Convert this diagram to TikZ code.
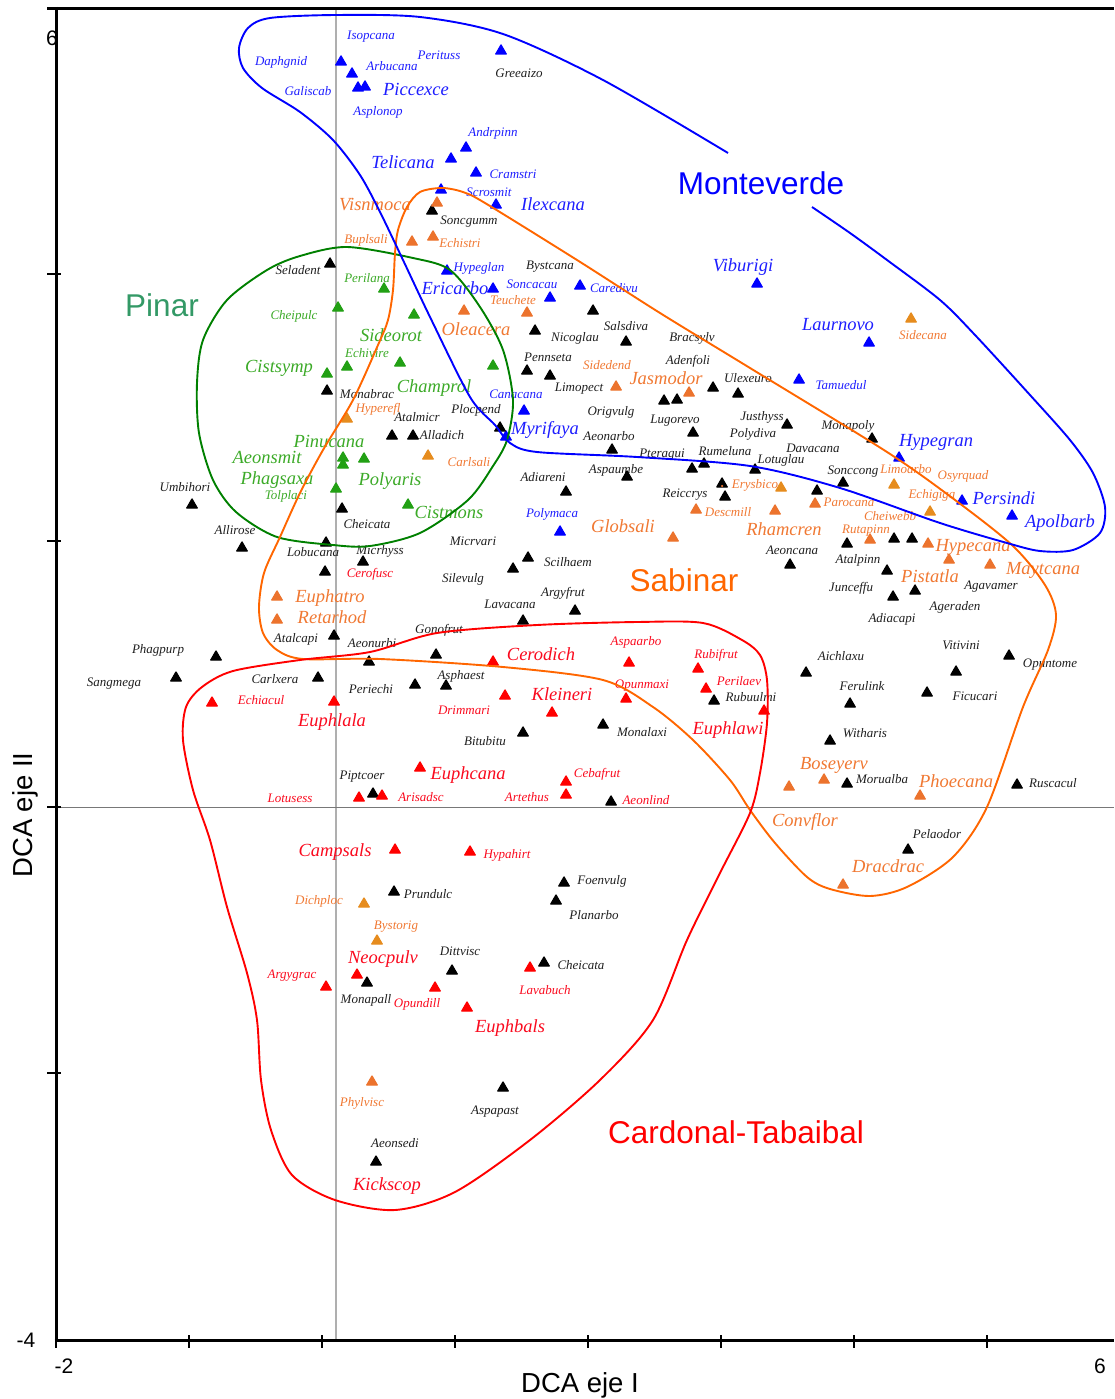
\documentclass[tikz,border=0pt]{standalone}
\usepackage{fontspec}
\setmainfont{Liberation Serif}
\newfontfamily\arialf{Liberation Sans}
\usetikzlibrary{shapes.geometric}
\definecolor{cK}{RGB}{0,0,0}
\definecolor{cB}{RGB}{0,0,255}
\definecolor{cG}{RGB}{34,160,20}
\definecolor{cOA}{RGB}{236,115,45}
\definecolor{cOB}{RGB}{230,140,30}
\definecolor{cR}{RGB}{255,0,0}
\definecolor{tK}{RGB}{30,30,30}
\definecolor{tB}{RGB}{30,30,255}
\definecolor{tG}{RGB}{60,170,40}
\definecolor{tO}{RGB}{240,120,50}
\definecolor{tR}{RGB}{250,10,30}
\definecolor{hB}{RGB}{0,0,255}
\definecolor{hG}{RGB}{0,128,0}
\definecolor{hO}{RGB}{255,102,0}
\definecolor{hR}{RGB}{255,0,0}
\definecolor{pinarc}{RGB}{51,153,102}
\definecolor{grayA}{RGB}{175,175,175}
\definecolor{grayB}{RGB}{120,120,120}
\begin{document}
\begin{tikzpicture}[x=1pt,y=-1pt,
  tri/.style={regular polygon, regular polygon sides=3, minimum size=12pt, inner sep=0pt, line width=1.3pt, line join=round},
  trik/.style={tri, draw=cK, fill=cK},
  trib/.style={tri, draw=cB, fill=cB},
  trig/.style={tri, draw=cG, fill=cG},
  trioa/.style={tri, draw=cOA, fill=cOA},
  triob/.style={tri, draw=cOB, fill=cOB},
  trir/.style={tri, draw=cR, fill=cR},
  lab/.style={inner sep=0pt, text height=9pt, text depth=0pt, font=\fontsize{13}{13}\selectfont\itshape},
  biglab/.style={inner sep=0pt, text height=12pt, text depth=0pt, font=\fontsize{18.5}{18.5}\selectfont\itshape},
  grp/.style={inner sep=0pt, text height=22.5pt, text depth=0pt, font=\arialf\fontsize{31.5}{31.5}\selectfont},
  axlab/.style={inner sep=0pt, text height=20pt, text depth=0pt, font=\arialf\fontsize{27.5}{27.5}\selectfont},
  ticklab/.style={inner sep=0pt, text height=15pt, text depth=0pt, font=\arialf\fontsize{21}{21}\selectfont},
  hull/.style={line width=1.9pt, line join=round}
]
\useasboundingbox (0,0) rectangle (1114,1399);

% reference lines through origin
\draw[grayA, line width=1.2pt] (336,10) -- (336,1339);
\draw[grayB, line width=1pt] (57,807) -- (1114,807);

% ---------- labels ----------
\foreach \x/\y/\t [count=\i] in {519/73/Greeaizo,469/220/Soncgumm,298/270/Seladent,550/265/Bystcana,575/337/Nicoglau,626/326/Salsdiva,692/337/Bracsylv,548/357/Pennseta,688/360/Adenfoli,579/387/Limopect,748/378/Ulexeuro,367/394/Monabrac,476/409/Plocpend,611/411/Origvulg,675/419/Lugorevo,417/417/Atalmicr,609/436/Aeonarbo,442/435/Alladich,762/416/Justhyss,753/433/Polydiva,848/425/Monapoly,813/448/Davacana,781/459/Lotuglau,662/453/Pteragui,725/451/Rumeluna,616/469/Aspaumbe,853/470/Sonccong,543/477/Adiareni,185/487/Umbihori,685/493/Reiccrys,367/524/Cheicata,235/530/Allirose,473/541/Micrvari,380/550/Micrhyss,313/552/Lobucana,792/550/Aeoncana,858/559/Atalpinn,568/562/Scilhaem,463/578/Silevulg,991/585/Agavamer,851/587/Junceffu,563/592/Argyfrut,510/604/Lavacana,955/606/Ageraden,892/618/Adiacapi,439/629/Gonofrut,296/638/Atalcapi,372/643/Aeonurbi,961/645/Vitivini,158/649/Phagpurp,841/656/Aichlaxu,1050/663/Opuntome,461/675/Asphaest,275/679/Carlxera,114/682/Sangmega,862/686/Ferulink,371/689/Periechi,975/696/Ficucari,751/697/Rubuulmi,642/732/Monalaxi,865/733/Witharis,485/741/Bitubitu,362/775/Piptcoer,882/779/Morualba,1053/783/Ruscacul,937/834/Pelaodor,602/880/Foenvulg,428/894/Prundulc,594/915/Planarbo,460/951/Dittvisc,581/965/Cheicata,366/999/Monapall,495/1110/Aspapast,395/1143/Aeonsedi}
  {\node[lab, tK] (lk\i) at (\x,\y) {\t};}

\foreach \x/\y/\t [count=\i] in {371/35/Isopcana,281/61/Daphgnid,392/66/Arbucana,439/55/Perituss,308/91/Galiscab,378/111/Asplonop,493/132/Andrpinn,513/174/Cramstri,489/192/Scrosmit,479/267/Hypeglan,532/284/Soncacau,614/288/Caredivu,516/394/Canacana,841/385/Tamuedul,552/513/Polymaca}
  {\node[lab, tB] (lb\i) at (\x,\y) {\t};}

\foreach \x/\y/\t [count=\i] in {416/90/Piccexce,403/162/Telicana,553/205/Ilexcana,455/288/Ericarbo,743/265/Viburigi,838/324/Laurnovo,545/428/Myrifaya,936/440/Hypegran,1004/498/Persindi,1060/521/Apolbarb}
  {\node[biglab, tB] (Lb\i) at (\x,\y) {\t};}

\foreach \x/\y/\t [count=\i] in {367/278/Perilana,294/315/Cheipulc,367/353/Echivire,286/495/Tolplaci}
  {\node[lab, tG] (lg\i) at (\x,\y) {\t};}

\foreach \x/\y/\t [count=\i] in {391/335/Sideorot,279/366/Cistsymp,434/386/Champrol,329/441/Pinucana,267/457/Aeonsmit,277/478/Phagsaxa,390/479/Polyaris,449/512/Cistmons}
  {\node[biglab, tG] (Lg\i) at (\x,\y) {\t};}

\foreach \x/\y/\t [count=\i] in {366/239/Buplsali,460/243/Echistri,513/300/Teuchete,607/365/Sidedend,378/408/Hyperefl,923/335/Sidecana,469/462/Carlsali,906/469/Limoarbo,963/475/Osyrquad,755/484/Erysbico,932/494/Echigiga,849/502/Parocana,728/512/Descmill,890/516/Cheiwebb,866/529/Rutapinn,319/900/Dichploc,396/925/Bystorig,362/1102/Phylvisc}
  {\node[lab, tO] (lo\i) at (\x,\y) {\t};}

\foreach \x/\y/\t [count=\i] in {375/204/Visnmoca,476/329/Oleacera,666/378/Jasmodor,623/526/Globsali,784/529/Rhamcren,973/545/Hypecana,1043/568/Maytcana,930/576/Pistatla,330/596/Euphatro,332/617/Retarhod,834/763/Boseyerv,956/781/Phoecana,805/820/Convflor,888/866/Dracdrac}
  {\node[biglab, tO] (Lo\i) at (\x,\y) {\t};}

\foreach \x/\y/\t [count=\i] in {370/573/Cerofusc,636/641/Aspaarbo,716/654/Rubifrut,739/681/Perilaev,642/684/Opunmaxi,261/700/Echiacul,464/710/Drimmari,597/773/Cebafrut,290/798/Lotusess,421/797/Arisadsc,527/797/Artethus,646/800/Aeonlind,507/854/Hypahirt,292/974/Argygrac,545/990/Lavabuch,417/1003/Opundill}
  {\node[lab, tR] (lr\i) at (\x,\y) {\t};}

\foreach \x/\y/\t [count=\i] in {541/654/Cerodich,562/694/Kleineri,332/720/Euphlala,728/728/Euphlawi,468/773/Euphcana,335/850/Campsals,383/957/Neocpulv,510/1026/Euphbals,387/1184/Kickscop}
  {\node[biglab, tR] (Lr\i) at (\x,\y) {\t};}

% ---------- triangles ----------
\foreach \x/\y [count=\i] in {341/62,352/74,358/88,365/87,501/51,466/148,451/159,476/173,441/190,496/205,447/271,493/289,580/286,550/298,524/411,506/437,757/284,869/343,799/380,899/458,962/501,1012/516,560/532}
  {\node[trib] (tb\i) at (\x,\y) {};}

\foreach \x/\y [count=\i] in {338/308,327/374,347/367,384/289,414/315,400/363,493/366,343/458,343/465,364/459,336/489,408/505}
  {\node[trig] (tg\i) at (\x,\y) {};}

\foreach \x/\y [count=\i] in {432/211,330/264,327/391,593/311,535/331,626/342,527/371,550/376,664/401,677/400,713/388,738/394,500/428,693/433,392/436,413/436,787/425,872/439,612/450,627/477,566/492,692/469,704/464,722/484,725/497,755/470,843/483,817/491,528/558,513/569,575/611,523/621,342/509,192/505,242/548,326/543,363/562,325/572,334/636,847/544,894/539,912/539,790/565,887/571,893/597,915/591,216/657,176/678,318/678,369/662,436/655,415/685,446/686,714/701,603/725,523/733,373/794,611/802,806/673,956/672,1009/656,850/704,927/693,830/741,847/784,1017/785,908/850,564/883,394/892,556/901,452/971,544/963,367/983,503/1088,376/1162}
  {\node[trik] (tk\i) at (\x,\y) {};}

\node[circle, fill=cOA, inner sep=0pt, minimum size=2.5pt] (dot1) at (722,486) {};

\foreach \x/\y [count=\i] in {437/203,412/242,433/237,464/311,527/313,616/387,689/393,277/597,277/620,696/510,673/538,815/504,775/511,870/540,928/544,949/560,990/565,824/780,789/787,920/796,843/885,372/1082}
  {\node[trioa] (toa\i) at (\x,\y) {};}

\foreach \x/\y [count=\i] in {347/419,428/456,911/319,781/488,894/485,930/512,364/904,377/941}
  {\node[triob] (tob\i) at (\x,\y) {};}

\foreach \x/\y [count=\i] in {212/703,334/702,359/798,382/796,395/850,357/975,326/987,493/662,629/663,698/669,626/699,706/689,505/696,552/713,764/711,420/768,566/782,566/795,470/852,530/968,435/988,467/1008}
  {\node[trir] (tr\i) at (\x,\y) {};}

% ---------- group hulls ----------
\draw[hull, hG] plot[smooth cycle] coordinates {(347,247) (413,258) (450,270) (480,307) (503,350) (513,400) (507,440) (493,466) (468,500) (420,533) (370,546) (333,545) (277,537) (236,512) (213,480) (199,433) (197,383) (203,340) (227,300) (267,270) (300,256)};

\draw[hull, hO] plot[smooth cycle] coordinates {(395,253) (393,290) (388,320) (378,345) (353,400) (323,450) (300,493) (280,537) (264,573) (259,607) (263,633) (277,650) (303,659) (380,659) (503,667) (603,680) (653,707) (693,740) (730,780) (750,810) (775,843) (807,877) (830,889) (870,896) (907,887) (953,857) (987,807) (1023,707) (1048,650) (1056,615) (1045,585) (1013,546) (955,500) (887,452) (750,368) (660,313) (577,260) (485,203) (463,192) (442,188) (420,192) (407,207) (398,230)};

\draw[hull, hR] plot[smooth cycle] coordinates {(370,652) (437,633) (537,625) (637,622) (703,623) (742,640) (760,655) (767,680) (767,723) (760,773) (750,813) (720,873) (687,940) (653,1020) (600,1080) (530,1140) (455,1192) (395,1210) (335,1200) (292,1175) (271,1130) (261,1080) (257,1020) (247,973) (227,907) (210,840) (193,790) (183,740) (186,707) (202,687) (233,671) (300,660)};

\draw[hull, hB] plot[smooth] coordinates {(812,207) (850,233) (887,260) (940,300) (975,335) (1030,395) (1070,440) (1093,473) (1105,507) (1100,533) (1073,550) (1040,551) (1007,543) (940,523) (840,488) (750,466) (637,457) (537,452) (510,443) (495,425) (470,397) (430,317) (403,260) (380,212) (360,175) (333,140) (300,112) (262,88) (243,68) (239,48) (248,28) (270,18) (336,15) (420,17) (503,34) (603,80) (728,153)};

% ---------- group names ----------
\node[grp, hB] (gMonte) at (761,183) {Monteverde};
\node[grp, pinarc] (gPinar) at (162,305) {Pinar};
\node[grp, hO] (gSabin) at (684,580) {Sabinar};
\node[grp, hR] (gCardo) at (736,1132) {Cardonal-Tabaibal};

% ---------- axes ----------
\node[ticklab] (tySix) at (52,38) {6};
\node[ticklab] (tyMinFour) at (26,1340) {-4};
\node[ticklab] (txMinTwo) at (64,1366) {-2};
\node[ticklab] (txSix) at (1100,1366) {6};
\node[axlab] (xtitle) at (580,1382) {DCA eje I};
\node[axlab, rotate=90] (ytitle) at (22,815) {DCA eje II};

\draw[line width=3pt] (54.5,8.5) -- (1114,8.5);
\draw[line width=3pt] (56,7) -- (56,1341.5);
\draw[line width=3pt] (54.5,1340) -- (1114,1340);
\foreach \yy in {8.5,274,541,807,1073}
  {\draw[line width=2.5pt] (47,\yy) -- (61,\yy);}
\foreach \xx in {56,189,322,455,588,721,854,987}
  {\draw[line width=2.5pt] (\xx,1335) -- (\xx,1348);}
\end{tikzpicture}
\end{document}
